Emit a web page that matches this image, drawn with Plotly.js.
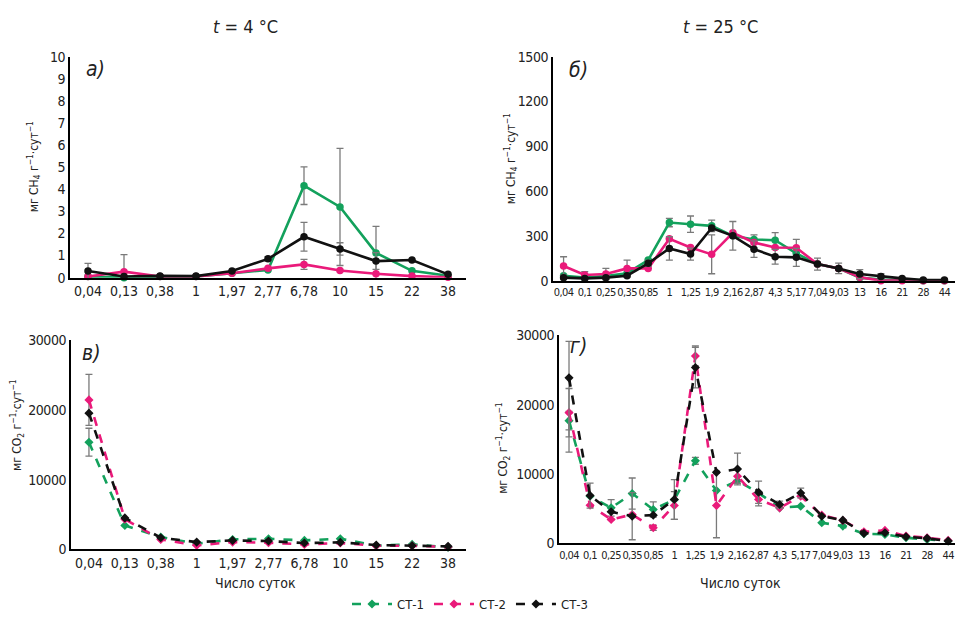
<!DOCTYPE html>
<html><head><meta charset="utf-8">
<script src="https://cdn.plot.ly/plotly-3.0.1.min.js"></script>
<style>html,body{margin:0;padding:0;background:#fff}#c{width:955px;height:619px}
.x2tick text,.x4tick text{letter-spacing:-0.6px}
.ytick text,.y2tick text,.y3tick text,.y4tick text{letter-spacing:-0.4px}
</style>
</head><body><div id="c"></div>
<script>
// ---- data ----
var catsCold = ['0,04','0,13','0,38','1','1,97','2,77','6,78','10','15','22','38'];
var catsWarm = ['0,04','0,1','0,25','0,35','0,85','1','1,25','1,9','2,16','2,87','4,3','5,17','7,04','9,03','13','16','21','28','44'];
var seriesNames = ['СТ-1','СТ-2','СТ-3'];

// а) CH4, 4 °C
var a_ct1 = [0.05,0,0.05,0.05,0.2,0.35,4.16,3.2,1.12,0.31,0.09];
var a_ct1_err = [0,0,0,0,0,0,0.85,2.65,1.2,0,0];
var a_ct2 = [0.05,0.27,0.05,0.05,0.2,0.42,0.6,0.32,0.18,0.07,0.02];
var a_ct2_err = [0,0.77,0,0,0,0,0.23,0,0,0,0];
var a_ct3 = [0.3,0.05,0.08,0.07,0.3,0.85,1.85,1.3,0.75,0.8,0.15];
var a_ct3_err = [0.35,0,0,0,0,0.1,0.65,0.28,0.38,0,0];

// б) CH4, 25 °C
var b_ct1 = [33,20,30,50,138,389,378,367,300,276,271,182,111,82,20,7,5,0,0];
var b_ct1_err = [0,0,0,0,0,28,55,38,0,30,50,0,0,0,0,0,0,0,0];
var b_ct2 = [98,38,44,82,82,280,222,176,320,256,222,220,111,82,22,0,0,0,0];
var b_ct2_err = [62,22,38,56,0,0,0,130,0,0,0,56,0,0,0,0,0,0,0];
var b_ct3 = [20,15,20,33,116,216,178,353,300,211,160,156,111,82,44,27,15,4,4];
var b_ct3_err = [0,0,0,0,20,78,40,0,96,55,50,60,40,35,30,20,0,0,0];

// в) CO2, 4 °C
var c_ct1 = [15380,3420,1760,800,1420,1520,1280,1520,520,710,280];
var c_ct1_err = [2000,0,0,0,0,0,0,0,0,0,0];
var c_ct2 = [21450,4320,1420,570,1040,950,710,900,520,520,330];
var c_ct2_err = [3650,0,0,0,0,0,0,0,0,0,0];
var c_ct3 = [19550,4510,1660,1040,1280,1190,900,1000,620,520,430];
var c_ct3_err = [0,0,0,0,0,0,0,0,0,0,0];

// г) CO2, 25 °C
var d_ct1 = [17700,6800,5120,7180,4880,6300,11910,7610,9040,7270,5120,5360,2970,2490,1390,1290,810,570,330];
var d_ct1_err = [1340,0,1200,2250,1100,0,500,0,0,0,0,0,0,0,0,0,0,0,0];
var d_ct2 = [18850,5500,3440,4160,2250,5450,27030,5450,9670,6320,5120,6790,4070,3300,1670,1870,1050,810,430];
var d_ct2_err = [3490,0,0,0,380,2000,1440,4640,1000,900,0,0,0,0,0,0,0,0,0];
var d_ct3 = [23870,6890,4550,3920,4070,6320,25360,10240,10720,7370,5600,7270,3920,3350,1440,1530,960,720,330];
var d_ct3_err = [5270,1800,0,3400,0,2870,2920,0,2290,1600,500,700,0,0,0,0,0,0,0];
var d_ct3_errm = [10710,1800,0,3400,0,2870,2920,0,2290,1600,500,700,0,0,0,0,0,0,0];

// ---- styling ----
var colors = ['#13a15c','#ea1a7a','#111111'];
var FONT = '"DejaVu Sans Condensed", "Liberation Sans Narrow", "Arial Narrow", "Liberation Sans", Arial, sans-serif';

function tr(x, y, err, errm, i, xa, ya, dashed, legend) {
  var t = {
    type: 'scatter', mode: 'lines+markers', x: x, y: y,
    name: seriesNames[i], xaxis: xa, yaxis: ya, showlegend: !!legend,
    line: {color: colors[i], width: 2.6, dash: dashed ? 'dash' : 'solid'},
    marker: {color: colors[i], size: dashed ? 7 : 7.5, symbol: dashed ? 'diamond' : 'circle'},
    cliponaxis: false
  };
  if (err) {
    t.error_y = {type: 'data', array: err, color: '#7a7a7a', thickness: 1.3, width: 3.5, visible: true};
    if (errm) { t.error_y.symmetric = false; t.error_y.arrayminus = errm; }
  }
  return t;
}

var data = [
  tr(catsCold, a_ct1, a_ct1_err, null, 0, 'x', 'y', false),
  tr(catsCold, a_ct2, a_ct2_err, null, 1, 'x', 'y', false),
  tr(catsCold, a_ct3, a_ct3_err, null, 2, 'x', 'y', false),
  tr(catsWarm, b_ct1, b_ct1_err, null, 0, 'x2', 'y2', false),
  tr(catsWarm, b_ct2, b_ct2_err, null, 1, 'x2', 'y2', false),
  tr(catsWarm, b_ct3, b_ct3_err, null, 2, 'x2', 'y2', false),
  tr(catsCold, c_ct1, c_ct1_err, null, 0, 'x3', 'y3', true, true),
  tr(catsCold, c_ct2, c_ct2_err, null, 1, 'x3', 'y3', true, true),
  tr(catsCold, c_ct3, c_ct3_err, null, 2, 'x3', 'y3', true, true),
  tr(catsWarm, d_ct1, d_ct1_err, null, 0, 'x4', 'y4', true),
  tr(catsWarm, d_ct2, d_ct2_err, null, 1, 'x4', 'y4', true),
  tr(catsWarm, d_ct3, d_ct3_err, d_ct3_errm, 2, 'x4', 'y4', true)
];

function xax(dom, range, fs, anchor) {
  return {domain: dom, range: range, type: 'category', anchor: anchor,
    showline: true, linecolor: '#000', linewidth: 2, showgrid: false, zeroline: false,
    ticks: '', ticklen: 0, tickangle: 0, tickfont: {family: FONT, size: fs, color: '#222'}, fixedrange: true};
}
function yax(dom, range, dtick, anchor) {
  return {domain: dom, range: range, dtick: dtick, tick0: 0, anchor: anchor,
    showline: true, linecolor: '#000', linewidth: 2, showgrid: false, zeroline: false,
    ticks: '', tickformat: 'd', tickfont: {family: FONT, size: 14, color: '#222'}, fixedrange: true};
}
function px(v){return v/955;}
function py(v){return 1 - v/619;}

var ytitle4 = 'мг CH<sub>4</sub> г<sup>−1</sup>·сут<sup>−1</sup>';
var ytitleCO2 = 'мг CO<sub>2</sub> г<sup>−1</sup>·сут<sup>−1</sup>';

function ann(x, y, text, opts) {
  var a = {xref: 'paper', yref: 'paper', x: px(x), y: py(y), text: text, showarrow: false,
    xanchor: 'center', yanchor: 'middle', font: {family: FONT, size: 13, color: '#222'}};
  for (var k in opts) a[k] = opts[k];
  return a;
}

var layout = {
  width: 955, height: 619,
  margin: {l: 0, r: 0, t: 0, b: 0},
  paper_bgcolor: '#fff', plot_bgcolor: '#fff',
  font: {family: FONT, color: '#222'},
  separators: ', ',
  xaxis: xax([px(70), px(466)], [-0.5, 10.5], 14, 'y'),
  yaxis: yax([py(279), py(57)], [0, 10], 1, 'x'),
  xaxis2: xax([px(553), 1], [-0.5, 18.5], 11, 'y2'),
  yaxis2: yax([py(282), py(57)], [0, 1500], 300, 'x2'),
  xaxis3: xax([px(71), px(466)], [-0.5, 10.5], 14, 'y3'),
  yaxis3: yax([py(552), py(342)], [0, 30000], 10000, 'x3'),
  xaxis4: xax([px(559), 1], [-0.475, 18.325], 11, 'y4'),
  yaxis4: yax([py(546), py(337)], [0, 30000], 10000, 'x4'),
  showlegend: true,
  legend: {orientation: 'h', x: px(470), xanchor: 'center', y: py(607), yanchor: 'middle',
    font: {family: FONT, size: 13, color: '#222'}, bgcolor: 'rgba(0,0,0,0)', itemwidth: 40},
  annotations: [
    ann(245, 27, '<i>t</i> = 4 °C', {font: {family: FONT, size: 18, color: '#222'}}),
    ann(720, 27, '<i>t</i> = 25 °C', {font: {family: FONT, size: 18, color: '#222'}}),
    ann(34, 168, ytitle4, {textangle: -90, font: {family: FONT, size: 12, color: '#222'}}),
    ann(511, 160, ytitle4, {textangle: -90, font: {family: FONT, size: 12, color: '#222'}}),
    ann(17, 427, ytitleCO2, {textangle: -90, font: {family: FONT, size: 12, color: '#222'}}),
    ann(503, 450, ytitleCO2, {textangle: -90, font: {family: FONT, size: 12, color: '#222'}}),
    ann(255, 586, 'Число суток', {font: {family: FONT, size: 14, color: '#222'}}),
    ann(740, 586, 'Число суток', {font: {family: FONT, size: 14, color: '#222'}}),
    ann(95, 69, '<i>а)</i>', {xanchor: 'center', font: {family: FONT, size: 21, color: '#222'}}),
    ann(578, 70, '<i>б)</i>', {xanchor: 'center', font: {family: FONT, size: 21, color: '#222'}}),
    ann(91, 355, '<i>в)</i>', {xanchor: 'center', font: {family: FONT, size: 21, color: '#222'}}),
    ann(578, 348, '<i>г)</i>', {xanchor: 'center', font: {family: FONT, size: 21, color: '#222'}})
  ]
};

Plotly.newPlot('c', data, layout, {displayModeBar: false, staticPlot: true});
</script>
</body></html>
